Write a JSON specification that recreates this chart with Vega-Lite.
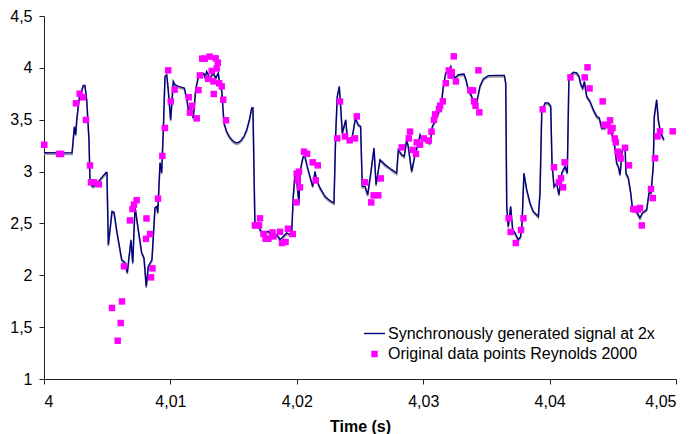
{
  "$schema": "https://vega.github.io/schema/vega-lite/v6.json",
  "width": 632,
  "height": 363,
  "autosize": "none",
  "padding": {"left": 44, "top": 16, "right": 16, "bottom": 55},
  "background": "white",
  "config": {
    "view": {"stroke": null},
    "font": "Liberation Sans",
    "axis": {"grid": false, "domainColor": "#222222", "tickColor": "#222222", "tickSize": 5, "labelColor": "#000000", "labelFont": "Liberation Sans", "labelFontSize": 16, "titleFont": "Liberation Sans"}
  },
  "datasets": {
    "signal": [
      {"t":4.00000,"v":3.182},{"t":4.00222,"v":3.18},{"t":4.00240,"v":3.433},{"t":4.00251,"v":3.356},{"t":4.00259,"v":3.5},{"t":4.00279,"v":3.713},{"t":4.00311,"v":3.831},{"t":4.00324,"v":3.831},{"t":4.00338,"v":3.693},{"t":4.00356,"v":3.308},{"t":4.00364,"v":2.893},{"t":4.00385,"v":2.857},{"t":4.00403,"v":2.864},{"t":4.00491,"v":2.992},{"t":4.00498,"v":2.992},{"t":4.00509,"v":2.295},{"t":4.00538,"v":2.616},{"t":4.00554,"v":2.607},{"t":4.00578,"v":2.411},{"t":4.00615,"v":2.15},{"t":4.00641,"v":2.121},{"t":4.00659,"v":2.025},{"t":4.00688,"v":2.343},{"t":4.00702,"v":2.121},{"t":4.00720,"v":2.664},{"t":4.00746,"v":2.44},{"t":4.00773,"v":2.218},{"t":4.00791,"v":2.17},{"t":4.00809,"v":1.893},{"t":4.00825,"v":2.086},{"t":4.00854,"v":2.15},{"t":4.00878,"v":2.652},{"t":4.00892,"v":2.664},{"t":4.00900,"v":2.604},{"t":4.00918,"v":3.086},{"t":4.00931,"v":2.989},{"t":4.00944,"v":3.404},{"t":4.00957,"v":3.918},{"t":4.00971,"v":3.934},{"t":4.00983,"v":3.79},{"t":4.01002,"v":3.5},{"t":4.01023,"v":3.87},{"t":4.01036,"v":3.838},{"t":4.01063,"v":3.822},{"t":4.01110,"v":3.806},{"t":4.01129,"v":3.71},{"t":4.01142,"v":3.597},{"t":4.01161,"v":3.629},{"t":4.01181,"v":3.517},{"t":4.01200,"v":3.79},{"t":4.01221,"v":3.918},{"t":4.01248,"v":3.951},{"t":4.01266,"v":3.944},{"t":4.01274,"v":3.903},{"t":4.01287,"v":3.966},{"t":4.01313,"v":3.903},{"t":4.01339,"v":3.951},{"t":4.01358,"v":3.903},{"t":4.01379,"v":3.951},{"t":4.01392,"v":3.822},{"t":4.01406,"v":3.79},{"t":4.01424,"v":3.469},{"t":4.01445,"v":3.388},{"t":4.01465,"v":3.34},{"t":4.01485,"v":3.308},{"t":4.01505,"v":3.285},{"t":4.01525,"v":3.276},{"t":4.01545,"v":3.285},{"t":4.01564,"v":3.308},{"t":4.01584,"v":3.345},{"t":4.01604,"v":3.404},{"t":4.01625,"v":3.5},{"t":4.01643,"v":3.613},{"t":4.01653,"v":3.616},{"t":4.01669,"v":2.472},{"t":4.01695,"v":2.507},{"t":4.01709,"v":2.44},{"t":4.01735,"v":2.408},{"t":4.01775,"v":2.423},{"t":4.01801,"v":2.375},{"t":4.01828,"v":2.392},{"t":4.01854,"v":2.375},{"t":4.01867,"v":2.343},{"t":4.01893,"v":2.375},{"t":4.01920,"v":2.408},{"t":4.01946,"v":2.392},{"t":4.01960,"v":2.423},{"t":4.01972,"v":2.761},{"t":4.01986,"v":2.986},{"t":4.01999,"v":2.922},{"t":4.02017,"v":2.697},{"t":4.02025,"v":2.986},{"t":4.02039,"v":3.083},{"t":4.02051,"v":3.147},{"t":4.02065,"v":3.144},{"t":4.02083,"v":3.05},{"t":4.02104,"v":2.954},{"t":4.02126,"v":2.857},{"t":4.02144,"v":3.002},{"t":4.02157,"v":2.922},{"t":4.02184,"v":2.842},{"t":4.02223,"v":2.761},{"t":4.02263,"v":2.719},{"t":4.02294,"v":2.697},{"t":4.02308,"v":3.372},{"t":4.02320,"v":3.725},{"t":4.02336,"v":3.822},{"t":4.02347,"v":3.629},{"t":4.02360,"v":3.372},{"t":4.02387,"v":3.5},{"t":4.02400,"v":3.324},{"t":4.02434,"v":3.308},{"t":4.02453,"v":3.436},{"t":4.02463,"v":3.517},{"t":4.02487,"v":3.452},{"t":4.02505,"v":3.436},{"t":4.02518,"v":2.857},{"t":4.02540,"v":2.857},{"t":4.02561,"v":2.777},{"t":4.02585,"v":2.986},{"t":4.02611,"v":3.228},{"t":4.02627,"v":2.874},{"t":4.02658,"v":3.115},{"t":4.02698,"v":3.067},{"t":4.02751,"v":3.018},{"t":4.02790,"v":2.986},{"t":4.02803,"v":3.211},{"t":4.02830,"v":3.163},{"t":4.02850,"v":3.147},{"t":4.02869,"v":3.308},{"t":4.02882,"v":3.243},{"t":4.02909,"v":3.002},{"t":4.02935,"v":3.163},{"t":4.02961,"v":3.276},{"t":4.02975,"v":3.356},{"t":4.02988,"v":3.324},{"t":4.03028,"v":3.291},{"t":4.03054,"v":3.276},{"t":4.03072,"v":3.436},{"t":4.03093,"v":3.484},{"t":4.03125,"v":3.581},{"t":4.03146,"v":3.677},{"t":4.03159,"v":3.822},{"t":4.03178,"v":3.951},{"t":4.03199,"v":3.966},{"t":4.03218,"v":4.014},{"t":4.03230,"v":3.951},{"t":4.03252,"v":3.903},{"t":4.03278,"v":3.934},{"t":4.03323,"v":3.941},{"t":4.03339,"v":3.886},{"t":4.03357,"v":3.79},{"t":4.03384,"v":3.725},{"t":4.03396,"v":3.677},{"t":4.03418,"v":3.645},{"t":4.03428,"v":3.693},{"t":4.03449,"v":3.822},{"t":4.03475,"v":3.893},{"t":4.03515,"v":3.925},{"t":4.03581,"v":3.928},{"t":4.03642,"v":3.928},{"t":4.03653,"v":3.854},{"t":4.03661,"v":2.664},{"t":4.03673,"v":2.472},{"t":4.03692,"v":2.664},{"t":4.03708,"v":2.44},{"t":4.03726,"v":2.408},{"t":4.03752,"v":2.343},{"t":4.03771,"v":2.375},{"t":4.03782,"v":2.504},{"t":4.03797,"v":2.986},{"t":4.03819,"v":2.825},{"t":4.03845,"v":2.697},{"t":4.03871,"v":2.616},{"t":4.03911,"v":2.568},{"t":4.03924,"v":2.797},{"t":4.03938,"v":3.581},{"t":4.03964,"v":3.661},{"t":4.03990,"v":3.661},{"t":4.04009,"v":3.629},{"t":4.04019,"v":3.083},{"t":4.04035,"v":2.857},{"t":4.04056,"v":2.89},{"t":4.04074,"v":2.777},{"t":4.04096,"v":2.986},{"t":4.04122,"v":3.05},{"t":4.04140,"v":2.986},{"t":4.04153,"v":3.918},{"t":4.04188,"v":3.957},{"t":4.04214,"v":3.951},{"t":4.04233,"v":3.918},{"t":4.04248,"v":3.838},{"t":4.04262,"v":3.806},{"t":4.04275,"v":3.87},{"t":4.04294,"v":3.725},{"t":4.04320,"v":3.677},{"t":4.04346,"v":3.597},{"t":4.04373,"v":3.532},{"t":4.04393,"v":3.517},{"t":4.04412,"v":3.42},{"t":4.04438,"v":3.42},{"t":4.04464,"v":3.469},{"t":4.04491,"v":3.372},{"t":4.04512,"v":3.276},{"t":4.04531,"v":3.083},{"t":4.04544,"v":3.05},{"t":4.04557,"v":2.97},{"t":4.04575,"v":3.211},{"t":4.04597,"v":3.243},{"t":4.04604,"v":2.986},{"t":4.04623,"v":2.938},{"t":4.04642,"v":2.794},{"t":4.04654,"v":2.664},{"t":4.04676,"v":2.633},{"t":4.04702,"v":2.584},{"t":4.04715,"v":2.553},{"t":4.04733,"v":2.601},{"t":4.04768,"v":2.633},{"t":4.04786,"v":2.794},{"t":4.04802,"v":2.794},{"t":4.04820,"v":3.05},{"t":4.04828,"v":3.532},{"t":4.04847,"v":3.693},{"t":4.04860,"v":3.5},{"t":4.04879,"v":3.372},{"t":4.04905,"v":3.308}
    ],
    "points": [
      {"t":4.00002,"v":3.259},{"t":4.00120,"v":3.17},{"t":4.00135,"v":3.17},{"t":4.00253,"v":3.658},{"t":4.00282,"v":3.751},{"t":4.00309,"v":3.716},{"t":4.00332,"v":3.498},{"t":4.00364,"v":3.059},{"t":4.00372,"v":2.896},{"t":4.00397,"v":2.896},{"t":4.00434,"v":2.877},{"t":4.00538,"v":1.685},{"t":4.00583,"v":1.369},{"t":4.00607,"v":1.54},{"t":4.00617,"v":1.748},{"t":4.00633,"v":2.086},{"t":4.00680,"v":2.529},{"t":4.00700,"v":2.639},{"t":4.00712,"v":2.681},{"t":4.00733,"v":2.724},{"t":4.00811,"v":2.548},{"t":4.00807,"v":2.351},{"t":4.00839,"v":2.398},{"t":4.00858,"v":2.067},{"t":4.00847,"v":1.98},{"t":4.00902,"v":2.739},{"t":4.00936,"v":3.151},{"t":4.00956,"v":3.42},{"t":4.00983,"v":3.976},{"t":4.01003,"v":3.676},{"t":4.01033,"v":3.79},{"t":4.01145,"v":3.716},{"t":4.01155,"v":3.568},{"t":4.01171,"v":3.635},{"t":4.01208,"v":3.513},{"t":4.01222,"v":3.785},{"t":4.01233,"v":3.927},{"t":4.01252,"v":4.089},{"t":4.01272,"v":4.089},{"t":4.01310,"v":4.108},{"t":4.01358,"v":4.092},{"t":4.01375,"v":4.05},{"t":4.01366,"v":3.994},{"t":4.01327,"v":3.97},{"t":4.01299,"v":3.894},{"t":4.01340,"v":3.87},{"t":4.01343,"v":3.748},{"t":4.01386,"v":3.851},{"t":4.01406,"v":3.822},{"t":4.01418,"v":3.693},{"t":4.01440,"v":3.494},{"t":4.01669,"v":2.481},{"t":4.01677,"v":2.481},{"t":4.01701,"v":2.481},{"t":4.01709,"v":2.549},{"t":4.01737,"v":2.398},{"t":4.01753,"v":2.353},{"t":4.01775,"v":2.353},{"t":4.01807,"v":2.413},{"t":4.01815,"v":2.375},{"t":4.01867,"v":2.419},{"t":4.01883,"v":2.311},{"t":4.01911,"v":2.321},{"t":4.01930,"v":2.449},{"t":4.01968,"v":2.398},{"t":4.01996,"v":2.703},{"t":4.01999,"v":2.98},{"t":4.02017,"v":2.999},{"t":4.02007,"v":2.915},{"t":4.02025,"v":2.848},{"t":4.02057,"v":3.192},{"t":4.02081,"v":3.171},{"t":4.02126,"v":3.089},{"t":4.02166,"v":3.06},{"t":4.02150,"v":2.915},{"t":4.02320,"v":3.32},{"t":4.02342,"v":3.676},{"t":4.02381,"v":3.339},{"t":4.02418,"v":3.301},{"t":4.02460,"v":3.32},{"t":4.02475,"v":3.532},{"t":4.02540,"v":2.896},{"t":4.02589,"v":2.703},{"t":4.02608,"v":2.771},{"t":4.02645,"v":2.771},{"t":4.02664,"v":2.934},{"t":4.02830,"v":3.233},{"t":4.02896,"v":3.385},{"t":4.02886,"v":3.32},{"t":4.02917,"v":3.209},{"t":4.02943,"v":3.171},{"t":4.02949,"v":3.282},{"t":4.02975,"v":3.259},{"t":4.03004,"v":3.32},{"t":4.03044,"v":3.3},{"t":4.03066,"v":3.385},{"t":4.03085,"v":3.498},{"t":4.03095,"v":3.552},{"t":4.03125,"v":3.602},{"t":4.03134,"v":3.635},{"t":4.03155,"v":3.677},{"t":4.03179,"v":3.852},{"t":4.03203,"v":3.975},{"t":4.03226,"v":3.959},{"t":4.03216,"v":3.925},{"t":4.03242,"v":4.111},{"t":4.03259,"v":3.869},{"t":4.03373,"v":3.783},{"t":4.03394,"v":3.783},{"t":4.03402,"v":3.677},{"t":4.03414,"v":3.635},{"t":4.03437,"v":3.976},{"t":4.03444,"v":3.571},{"t":4.03676,"v":2.549},{"t":4.03692,"v":2.418},{"t":4.03733,"v":2.311},{"t":4.03774,"v":2.437},{"t":4.03793,"v":2.549},{"t":4.03945,"v":3.6},{"t":4.04035,"v":3.041},{"t":4.04074,"v":2.896},{"t":4.04090,"v":2.936},{"t":4.04106,"v":2.848},{"t":4.04119,"v":3.089},{"t":4.04165,"v":3.908},{"t":4.04278,"v":3.908},{"t":4.04300,"v":4.005},{"t":4.04316,"v":3.802},{"t":4.04420,"v":3.677},{"t":4.04434,"v":3.452},{"t":4.04458,"v":3.447},{"t":4.04478,"v":3.494},{"t":4.04498,"v":3.42},{"t":4.04483,"v":3.388},{"t":4.04516,"v":3.319},{"t":4.04524,"v":3.282},{"t":4.04540,"v":3.192},{"t":4.04554,"v":3.153},{"t":4.04562,"v":3.126},{"t":4.04597,"v":3.229},{"t":4.04628,"v":3.06},{"t":4.04662,"v":2.639},{"t":4.04676,"v":2.635},{"t":4.04697,"v":2.633},{"t":4.04715,"v":2.649},{"t":4.04729,"v":2.481},{"t":4.04802,"v":2.832},{"t":4.04816,"v":2.744},{"t":4.04834,"v":3.129},{"t":4.04854,"v":3.339},{"t":4.04873,"v":3.388},{"t":4.04974,"v":3.388}
    ]
  },
  "encoding": {
    "x": {"field": "t", "type": "quantitative", "scale": {"domain": [4, 4.05], "nice": false, "zero": false},
      "axis": {"values": [4, 4.01, 4.02, 4.03, 4.04, 4.05], "labelExpr": "replace(format(datum.value, '.2~f'), '.', ',')", "labelPadding": 9, "title": "Time (s)", "titleFontSize": 16, "titleFontWeight": "bold", "titleColor": "#000000", "titlePadding": 9}},
    "y": {"field": "v", "type": "quantitative", "scale": {"domain": [1, 4.5], "nice": false, "zero": false},
      "axis": {"values": [1, 1.5, 2, 2.5, 3, 3.5, 4, 4.5], "labelExpr": "replace(format(datum.value, '.1~f'), '.', ',')", "labelPadding": 7, "title": null}}
  },
  "layer": [
    {"data": {"name": "signal"}, "mark": {"type": "line", "color": "#9a9a9a", "strokeWidth": 1.6, "yOffset": 1.5, "interpolate": "linear"}},
    {"data": {"name": "signal"}, "mark": {"type": "line", "strokeWidth": 1.4, "interpolate": "linear"},
      "encoding": {"stroke": {"datum": "Synchronously generated signal at 2x", "scale": {"range": ["#000080"]},
        "legend": {"orient": "none", "legendX": 319, "legendY": 306, "title": null, "padding": 0, "symbolType": "stroke", "symbolSize": 441, "symbolStrokeWidth": 1.4, "labelFontSize": 16, "labelFont": "Liberation Sans", "labelColor": "#000000", "labelOffset": 2, "labelLimit": 0}}}},
    {"data": {"name": "points"}, "mark": {"type": "point", "shape": "square", "filled": true, "size": 42, "opacity": 1, "strokeWidth": 0},
      "encoding": {"fill": {"datum": "Original data points Reynolds 2000", "scale": {"range": ["#FF00FF"]},
        "legend": {"orient": "none", "legendX": 322.5, "legendY": 330, "title": null, "padding": 0, "symbolType": "square", "symbolSize": 42, "symbolStrokeWidth": 0, "symbolOpacity": 1, "labelFontSize": 16, "labelFont": "Liberation Sans", "labelColor": "#000000", "labelOffset": 5.5, "labelLimit": 0}}}}
  ]
}
